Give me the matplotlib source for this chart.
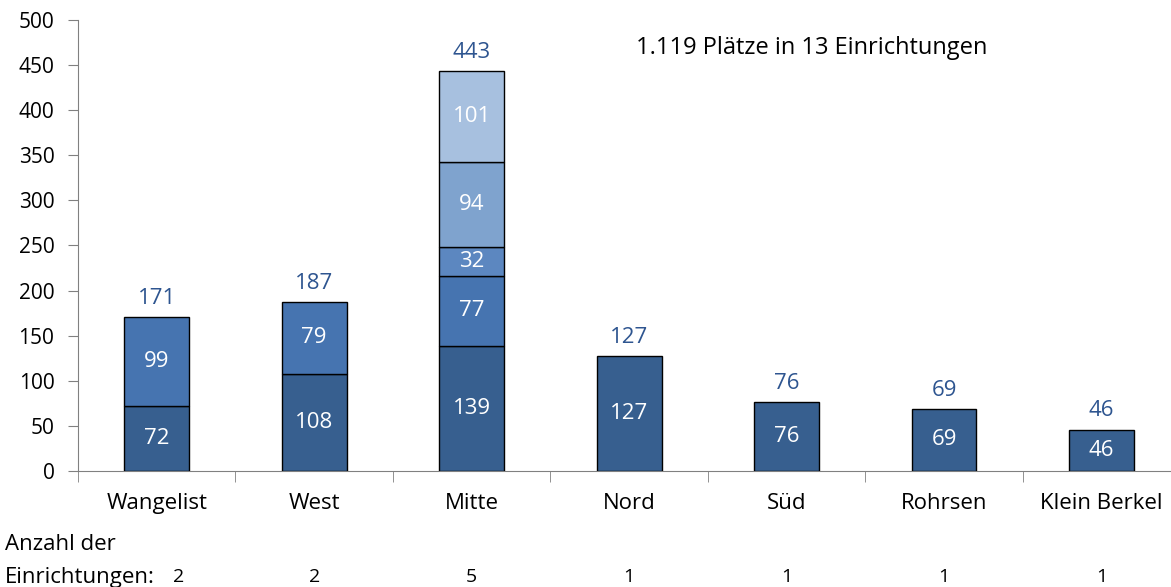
import numpy as np
import matplotlib.pyplot as plt
from matplotlib.transforms import blended_transform_factory

plt.rcParams['font.family'] = ['Open Sans', 'DejaVu Sans']

# Daten
categories = ['Wangelist', 'West', 'Mitte', 'Nord', 'Süd', 'Rohrsen', 'Klein Berkel']
layer1 = [72, 108, 139, 127, 76, 69, 46]
layer2 = [99, 79, 77, 0, 0, 0, 0]
layer3 = [0, 0, 32, 0, 0, 0, 0]
layer4 = [0, 0, 94, 0, 0, 0, 0]
layer5 = [0, 0, 101, 0, 0, 0, 0]
counts = [2, 2, 5, 1, 1, 1, 1]
note = '1.119 Plätze in 13 Einrichtungen'

layers = [layer1, layer2, layer3, layer4, layer5]
colors = ['#375F8F', '#4674B0', '#5C87C0', '#7FA3CE', '#A7C0DF']
label_blue = '#2E5590'

fig = plt.figure(figsize=(11.71, 5.87), dpi=100)
ax = fig.add_axes([0.0666, 0.1976, 0.9334, 0.7684])

x = np.arange(len(categories))
bottom = np.zeros(len(categories))
for vals, col in zip(layers, colors):
    vals = np.array(vals)
    m = vals > 0
    ax.bar(x[m], vals[m], 0.41, bottom=bottom[m], color=col, edgecolor='black', linewidth=1.0, zorder=3)
    for xi, b, v in zip(x[m], bottom[m], vals[m]):
        ax.text(xi, b + v / 2, str(v), ha='center', va='center', color='white', fontsize=16, zorder=4)
    bottom = bottom + vals

totals = bottom
for xi, t in zip(x, totals):
    ax.text(xi, t + 9, str(int(t)), ha='center', va='bottom', color=label_blue, fontsize=16)

ax.set_ylim(0, 500)
ax.set_xlim(-0.5, 6.44)
ax.set_yticks(range(0, 501, 50))
ax.tick_params(axis='y', labelsize=15, length=7, color='#808080', pad=10)
ax.set_xticks(x)
ax.set_xticklabels(categories, fontsize=16)
ax.tick_params(axis='x', length=0, pad=16)
ax.set_xticks(np.arange(-0.5, 6.5, 1), minor=True)
ax.tick_params(axis='x', which='minor', length=8, color='#808080')

for s in ['top', 'right']:
    ax.spines[s].set_visible(False)
for s in ['left', 'bottom']:
    ax.spines[s].set_color('#808080')

ax.text(0.671, 0.938, note, transform=ax.transAxes, ha='center', va='center', fontsize=17)

fig.text(0.004, 1 - 545 / 587, 'Anzahl der', ha='left', va='center', fontsize=16)
fig.text(0.004, 1 - 577 / 587, 'Einrichtungen:', ha='left', va='center', fontsize=16)
trans = blended_transform_factory(ax.transData, fig.transFigure)
for i, c in enumerate(counts):
    xi = x[i] + (0.14 if i == 0 else 0)
    fig.text(xi, 1 - 577 / 587, str(c), transform=trans, ha='center', va='center', fontsize=14)

fig.savefig('out.png', dpi=100)
